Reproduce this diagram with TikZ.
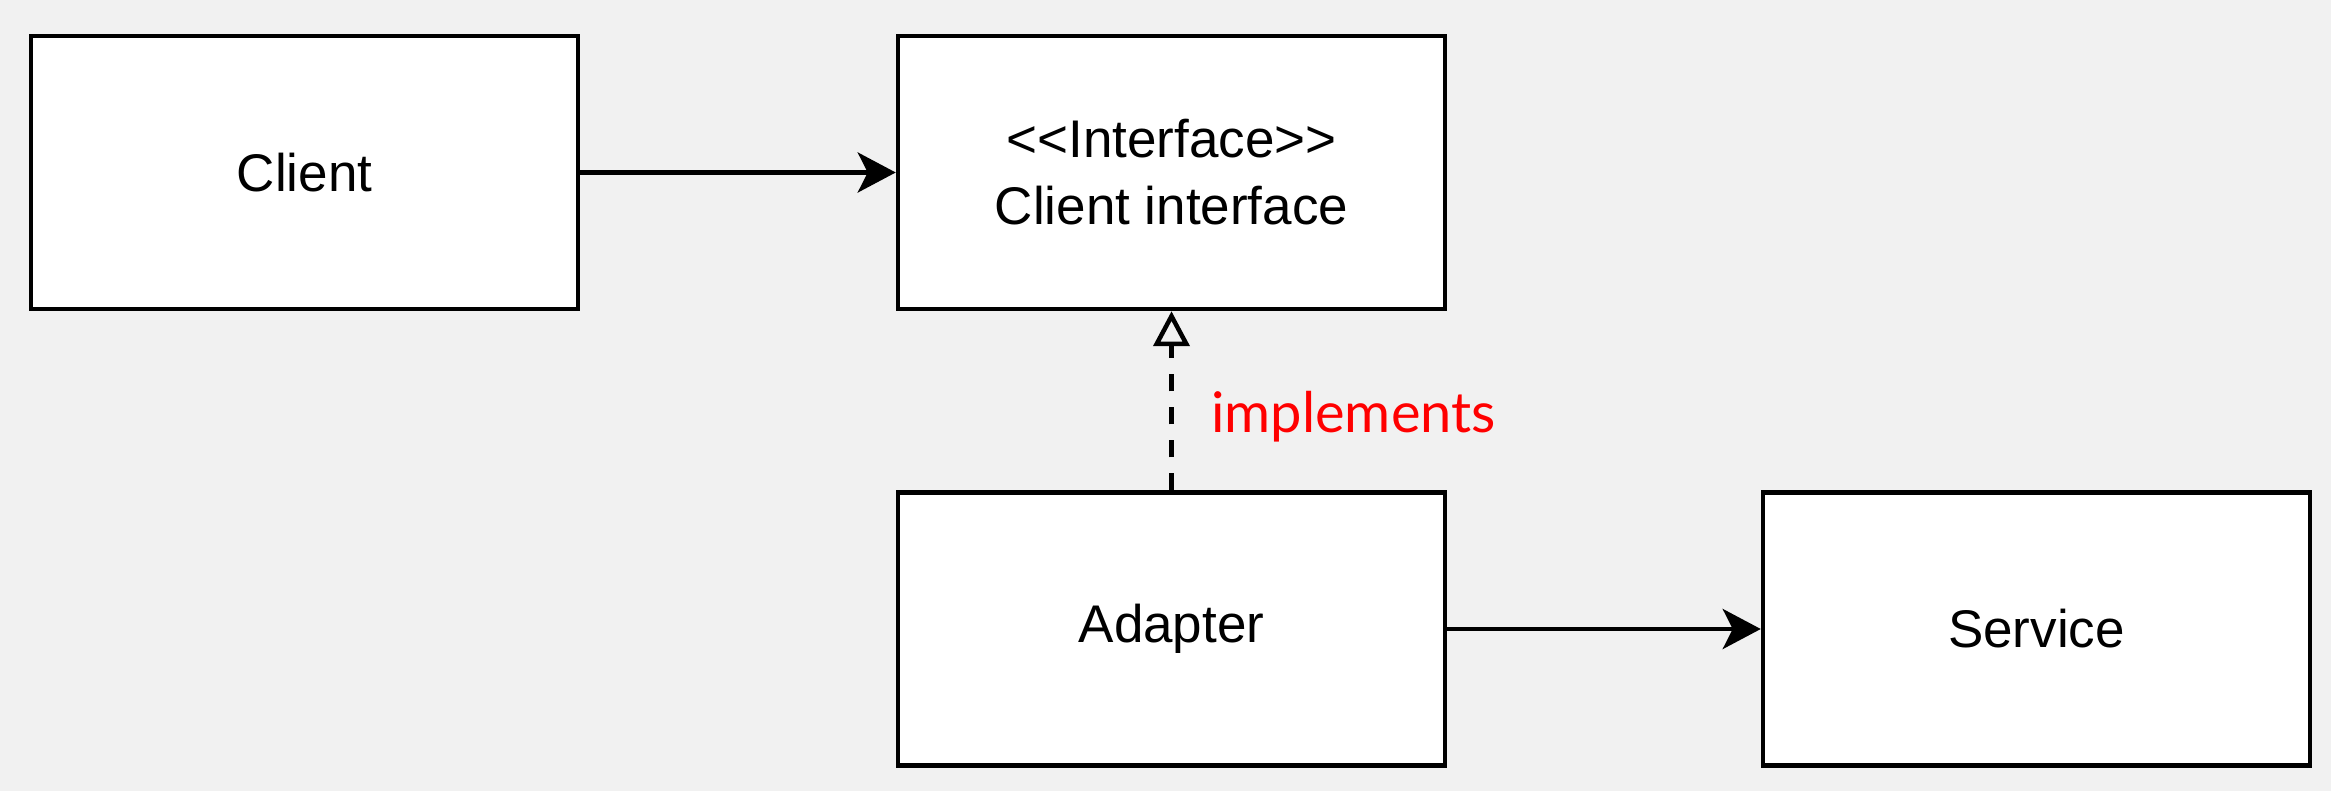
\documentclass[tikz,border=0pt]{standalone}
\usepackage{fontspec}
\setmainfont{Liberation Sans}
\newfontfamily\lblfont{Lato}
\usetikzlibrary{arrows.meta}
\definecolor{bgc}{HTML}{F1F1F1}
\definecolor{lblred}{HTML}{FF0000}
\tikzset{
  box/.style={draw=black, fill=white, line width=4.5pt, minimum width=547pt, minimum height=273pt, inner sep=0pt, align=center, font=\fontsize{53}{67}\selectfont},
  conn/.style={line width=4.5pt, -{Stealth[length=38pt, width=40pt, inset=10pt]}},
  realize/.style={line width=4.5pt, dash pattern=on 17pt off 16pt, -{Triangle[open, length=35pt, width=36pt, line width=4.5pt]}},
  lbl/.style={text=lblred, font=\lblfont\fontsize{56}{64}\selectfont, inner sep=0pt}
}
\begin{document}
\begin{tikzpicture}[x=1pt,y=-1pt]
\fill[bgc] (0,0) rectangle (2331,791);
\useasboundingbox (0,0) rectangle (2331,791);
\node[box] (client) at (304.5,172.5) {Client};
\node[box] (iface) at (1171.5,172.5) {{<}{<}Interface{>}{>}\\Client interface};
\node[box] (adapter) at (1171.5,629) {Adapter};
\node[box] (service) at (2036.5,629) {Service};
\draw[conn] (client.east) -- (iface.west);
\draw[conn] (adapter.east) -- (service.west);
\draw[realize] (adapter.north) -- (iface.south);
\node[lbl, anchor=base west] (impl) at (1211,432) {implements};
\end{tikzpicture}
\end{document}
